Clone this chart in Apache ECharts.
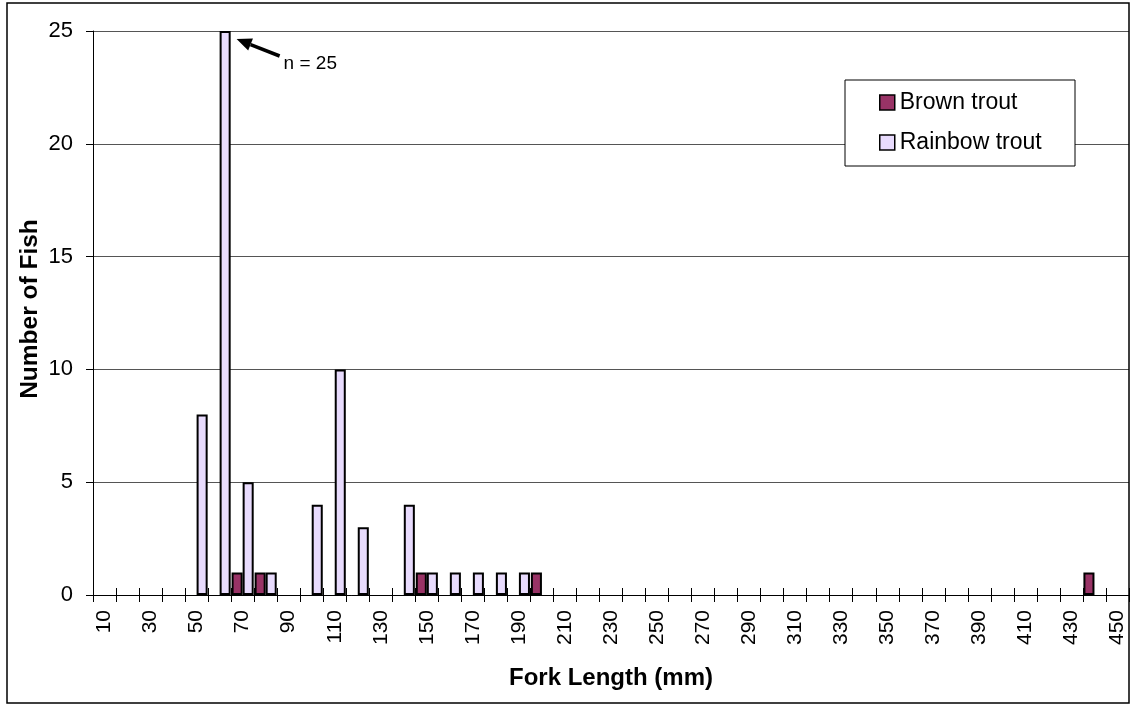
<!DOCTYPE html>
<html><head><meta charset="utf-8">
<script src="https://cdn.jsdelivr.net/npm/echarts@6/dist/echarts.min.js"></script>
<style>html,body{margin:0;padding:0;background:#fff}#c{width:1130px;height:704px}</style>
</head><body><div id="c"></div>
<script>
// Fork length bins (mm)
const categories = ['10','20','30','40','50','60','70','80','90','100',
  '110','120','130','140','150','160','170','180','190','200',
  '210','220','230','240','250','260','270','280','290','300',
  '310','320','330','340','350','360','370','380','390','400',
  '410','420','430','440','450'];
const brownTrout = [0,0,0,0,0,0,1,1,0,0,
  0,0,0,0,1,0,0,0,0,1,
  0,0,0,0,0,0,0,0,0,0,
  0,0,0,0,0,0,0,0,0,0,
  0,0,0,1,0];
const rainbowTrout = [0,0,0,0,8,25,5,1,0,4,
  10,3,0,4,1,1,1,1,1,0,
  0,0,0,0,0,0,0,0,0,0,
  0,0,0,0,0,0,0,0,0,0,
  0,0,0,0,0];
const seriesNames = ['Brown trout','Rainbow trout'];
const yMin = 0, yMax = 25, yStep = 5;
const annotationText = 'n = 25';
const annotationCategory = '60';
const annotationValue = 25;

const FONT = "'Liberation Sans', Arial, sans-serif";
const BROWN = '#993366';
const RAINBOW = '#E8DBFD';

function toItems(arr){
  return arr.map(v => v === 0 ? {value: 0, itemStyle: {borderWidth: 0, opacity: 0}} : v);
}

const chart = echarts.init(document.getElementById('c'), null, {renderer: 'canvas'});
const gridTop = 31, gridBottom = 109, gridLeft = 93, gridRight = 1;
const gridH = 704 - gridTop - gridBottom;

const option = {
  animation: false,
  backgroundColor: '#fff',
  grid: {left: gridLeft, right: gridRight, top: gridTop, bottom: gridBottom, containLabel: false},
  legend: {
    data: seriesNames,
    orient: 'vertical',
    left: 879, top: 91,
    itemWidth: 15, itemHeight: 15, itemGap: 17,
    padding: 0,
    icon: 'rect',
    textStyle: {fontFamily: FONT, fontSize: 23, color: '#000'},
    itemStyle: {borderColor: '#000', borderWidth: 1.5}
  },
  xAxis: [{
    type: 'category',
    data: categories,
    position: 'bottom',
    axisLine: {show: true, lineStyle: {color: '#000', width: 1}},
    axisTick: {show: true, interval: 0, length: 7, lineStyle: {color: '#000'}},
    axisLabel: {interval: 1, rotate: 90, margin: 15, fontFamily: FONT, fontSize: 21, color: '#000'},
    splitLine: {show: false},
    name: 'Fork Length (mm)',
    nameLocation: 'middle',
    nameGap: 71,
    nameMoveOverlap: false,
    nameTextStyle: {fontFamily: FONT, fontSize: 24, fontWeight: 'bold', color: '#000'}
  }, {
    type: 'category',
    data: categories,
    position: 'top',
    offset: -gridH,
    axisLine: {show: false},
    axisTick: {show: true, interval: 0, length: 7, lineStyle: {color: '#000'}},
    axisLabel: {show: false},
    splitLine: {show: false}
  }],
  yAxis: {
    type: 'value',
    min: yMin, max: yMax, interval: yStep,
    axisLine: {show: true, lineStyle: {color: '#000', width: 1}},
    axisTick: {show: true, length: 7, lineStyle: {color: '#000'}},
    axisLabel: {margin: 20, fontFamily: FONT, fontSize: 22, color: '#000'},
    splitLine: {show: true, lineStyle: {color: '#555', width: 1}},
    name: 'Number of Fish',
    nameLocation: 'middle',
    nameGap: 50,
    nameMoveOverlap: false,
    nameTextStyle: {fontFamily: FONT, fontSize: 24.5, fontWeight: 'bold', color: '#000',
                    padding: [0, 0, 0, 8]}
  },
  series: [{
    name: seriesNames[0],
    type: 'bar',
    data: toItems(brownTrout),
    barGap: '0%',
    barCategoryGap: '4%',
    itemStyle: {color: BROWN, borderColor: '#000', borderWidth: 2}
  }, {
    name: seriesNames[1],
    type: 'bar',
    data: toItems(rainbowTrout),
    barGap: '0%',
    barCategoryGap: '4%',
    itemStyle: {color: RAINBOW, borderColor: '#000', borderWidth: 2}
  }]
};
chart.setOption(option);

// annotation anchored to the top of the tallest bar
const p = chart.convertToPixel({xAxisIndex: 0, yAxisIndex: 0}, [annotationCategory, annotationValue]);
const tip = [p[0] + 17, p[1] + 8];
const tail = [p[0] + 60, p[1] + 25];
const dx = tip[0] - tail[0], dy = tip[1] - tail[1];
const len = Math.sqrt(dx*dx + dy*dy);
const ux = dx/len, uy = dy/len;
const headLen = 15, headW = 6.5;
const base = [tip[0] - ux*headLen, tip[1] - uy*headLen];
const nx = -uy, ny = ux;

chart.setOption({
  graphic: [
    {type: 'rect', z: 3, shape: {x: 845, y: 80, width: 230, height: 86},
     style: {fill: '#fff', stroke: '#000', lineWidth: 1}},
    {type: 'rect', z: 20, shape: {x: 7, y: 3, width: 1122, height: 700},
     style: {fill: 'none', stroke: '#000', lineWidth: 1.5}},
    {type: 'line', z: 20, shape: {x1: tail[0], y1: tail[1], x2: base[0], y2: base[1]},
     style: {stroke: '#000', lineWidth: 3.5}},
    {type: 'polygon', z: 20, shape: {points: [tip,
        [base[0] + nx*headW, base[1] + ny*headW],
        [base[0] - nx*headW, base[1] - ny*headW]]},
     style: {fill: '#000'}},
    {type: 'text', z: 20, x: tail[0] + 4, y: tail[1] + 8,
     style: {text: annotationText, font: "19px 'Liberation Sans', Arial, sans-serif", fill: '#000',
             textVerticalAlign: 'middle', verticalAlign: 'middle'}}
  ]
});
</script>
</body></html>
